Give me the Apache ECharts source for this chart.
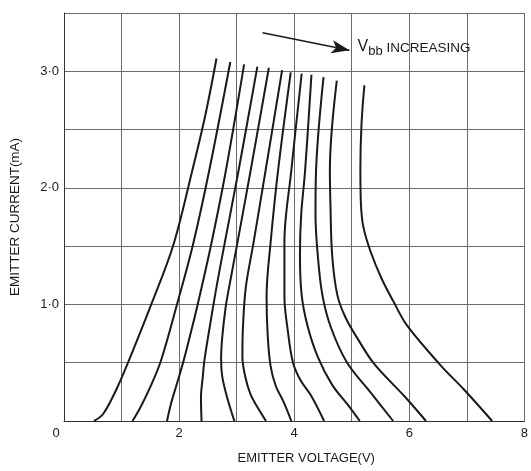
<!DOCTYPE html>
<html>
<head>
<meta charset="utf-8">
<title>emitter characteristics</title>
<script src="https://cdn.jsdelivr.net/npm/echarts@6/dist/echarts.min.js"></script>
<style>
	html,body{
		margin: 0px;
		padding: 0px;
		background-color: #fff;
	}
	#myChart{
		width: 531px;
		height: 471px;
	}
</style>
</head>
<body>
<div id="myChart"></div>
<script>
	// 数据: 每条曲线 [emitter voltage(V), emitter current(mA)]，Vbb 从左到右递增
	var curve1 = [[0.52,0],[0.68,0.06],[0.90,0.26],[1.12,0.51],[1.54,1.03],[1.90,1.51],[2.22,2.13],[2.45,2.61],[2.65,3.11]];
	var curve2 = [[1.19,0],[1.32,0.11],[1.47,0.26],[1.68,0.51],[1.98,1.03],[2.24,1.51],[2.52,2.14],[2.89,3.08]];
	var curve3 = [[1.79,0],[1.86,0.15],[1.95,0.30],[2.08,0.52],[2.25,0.85],[2.37,1.10],[2.56,1.52],[2.81,2.14],[3.13,3.06]];
	var curve4 = [[2.39,0],[2.38,0.20],[2.41,0.37],[2.44,0.52],[2.53,0.80],[2.65,1.15],[2.79,1.52],[3.03,2.14],[3.36,3.04]];
	var curve5 = [[2.96,0],[2.83,0.21],[2.75,0.38],[2.73,0.53],[2.75,0.72],[2.81,0.98],[2.87,1.15],[3.01,1.52],[3.24,2.14],[3.56,3.03]];
	var curve6 = [[3.51,0],[3.36,0.12],[3.24,0.23],[3.15,0.38],[3.10,0.55],[3.11,0.81],[3.16,1.15],[3.29,1.52],[3.50,2.14],[3.79,3.01]];
	var curve7 = [[3.95,0],[3.81,0.17],[3.68,0.30],[3.59,0.47],[3.54,0.73],[3.52,1.07],[3.59,1.53],[3.72,2.15],[3.94,2.99]];
	var curve8 = [[4.52,0],[4.29,0.22],[4.11,0.35],[3.98,0.50],[3.89,0.77],[3.83,1.07],[3.83,1.53],[3.95,2.15],[4.13,2.98]];
	var curve9 = [[5.14,0],[4.93,0.14],[4.66,0.31],[4.41,0.55],[4.23,0.82],[4.13,1.08],[4.10,1.42],[4.12,1.76],[4.19,2.15],[4.30,2.97]];
	var curve10 = [[5.72,0],[5.32,0.25],[4.92,0.50],[4.64,0.80],[4.49,1.08],[4.41,1.42],[4.37,1.77],[4.38,2.15],[4.51,2.95]];
	var curve11 = [[6.29,0],[5.92,0.21],[5.39,0.49],[5.11,0.70],[4.89,0.89],[4.75,1.08],[4.66,1.42],[4.63,1.85],[4.62,2.15],[4.74,2.92]];
	var curve12 = [[7.44,0],[6.95,0.27],[6.54,0.48],[5.96,0.82],[5.73,1.02],[5.52,1.22],[5.33,1.45],[5.20,1.67],[5.16,1.86],[5.15,2.16],[5.17,2.55],[5.22,2.88]];

	// 刻度文字
	var xTickValues = [0, 2, 4, 6, 8];
	var xTickLabels = ['0', '2', '4', '6', '8'];
	var yTickValues = [1, 2, 3];
	var yTickLabels = ['1·0', '2·0', '3·0'];

	// 箭头 + 注释 (数据坐标)
	var arrowFrom = [3.45, 3.33];
	var arrowTo = [4.96, 3.18];
	var noteAt = [5.10, 3.21];

	var curves = [curve1, curve2, curve3, curve4, curve5, curve6, curve7, curve8, curve9, curve10, curve11, curve12];
	var font = 'Liberation Sans';

	var myChart = echarts.init(document.getElementById('myChart'));

	var series = [];
	curves.forEach(function(item, index){
		series.push({
			name: 'Vbb' + (index + 1),
			type: 'line',
			data: item,
			smooth: 0.35,
			showSymbol: false,
			silent: true,
			lineStyle: {color: '#1a1a1a', width: 2}
		});
	});

	// 注释用空 series
	series.push({
		name: 'note',
		type: 'line',
		data: [],
		silent: true,
		markLine: {
			silent: true,
			symbol: ['none', 'arrow'],
			symbolSize: [10, 18],
			label: {show: false},
			lineStyle: {color: '#1a1a1a', width: 1.5, type: 'solid'},
			data: [[{coord: arrowFrom}, {coord: arrowTo}]]
		},
		markPoint: {
			silent: true,
			symbol: 'circle',
			symbolSize: 0,
			label: {
				show: true,
				position: 'right',
				distance: 0,
				formatter: '{v|V}{s|bb}{t| INCREASING}',
				rich: {
					v: {fontSize: 16, color: '#1a1a1a', fontFamily: font},
					s: {fontSize: 13, color: '#1a1a1a', fontFamily: font, padding: [9, 0, 0, 0]},
					t: {fontSize: 13.5, color: '#1a1a1a', fontFamily: font, padding: [3, 0, 0, 0]}
				}
			},
			data: [{coord: noteAt}]
		}
	});

	var option = {
		animation: false,
		backgroundColor: '#fff',
		grid: {
			left: 63,
			right: 3,
			top: 13,
			bottom: 50
		},
		xAxis: {
			type: 'value',
			min: 0,
			max: 8,
			interval: 1,
			name: 'EMITTER VOLTAGE(V)',
			nameLocation: 'middle',
			nameGap: 31,
			nameTextStyle: {fontSize: 13, color: '#1a1a1a', fontFamily: font, padding: [0, 0, 0, 24]},
			axisLine: {lineStyle: {color: '#333', width: 1}},
			axisTick: {show: false},
			splitLine: {lineStyle: {color: '#6a6a6a', width: 1}},
			axisLabel: {
				fontSize: 13,
				color: '#1a1a1a',
				fontFamily: font,
				margin: 6,
				formatter: function(v){
					var i = xTickValues.indexOf(v);
					if(i < 0) return '';
					if(v === 0) return '{z|' + xTickLabels[i] + '}';
					return xTickLabels[i];
				},
				rich: {
					z: {fontSize: 13, color: '#1a1a1a', fontFamily: font, padding: [0, 16, 0, 0]}
				}
			}
		},
		yAxis: {
			type: 'value',
			min: 0,
			max: 3.5,
			interval: 0.5,
			name: 'EMITTER CURRENT(mA)',
			nameLocation: 'middle',
			nameGap: 42,
			nameTextStyle: {fontSize: 13.5, color: '#1a1a1a', fontFamily: font},
			axisLine: {lineStyle: {color: '#333', width: 1}},
			axisTick: {show: false},
			splitLine: {lineStyle: {color: '#6a6a6a', width: 1}},
			axisLabel: {
				fontSize: 13,
				color: '#1a1a1a',
				fontFamily: font,
				margin: 5,
				formatter: function(v){
					var i = yTickValues.indexOf(v);
					return i < 0 ? '' : yTickLabels[i];
				}
			}
		},
		series: series
	};

	// 绘制图表
	myChart.setOption(option);
</script>
</body>
</html>
